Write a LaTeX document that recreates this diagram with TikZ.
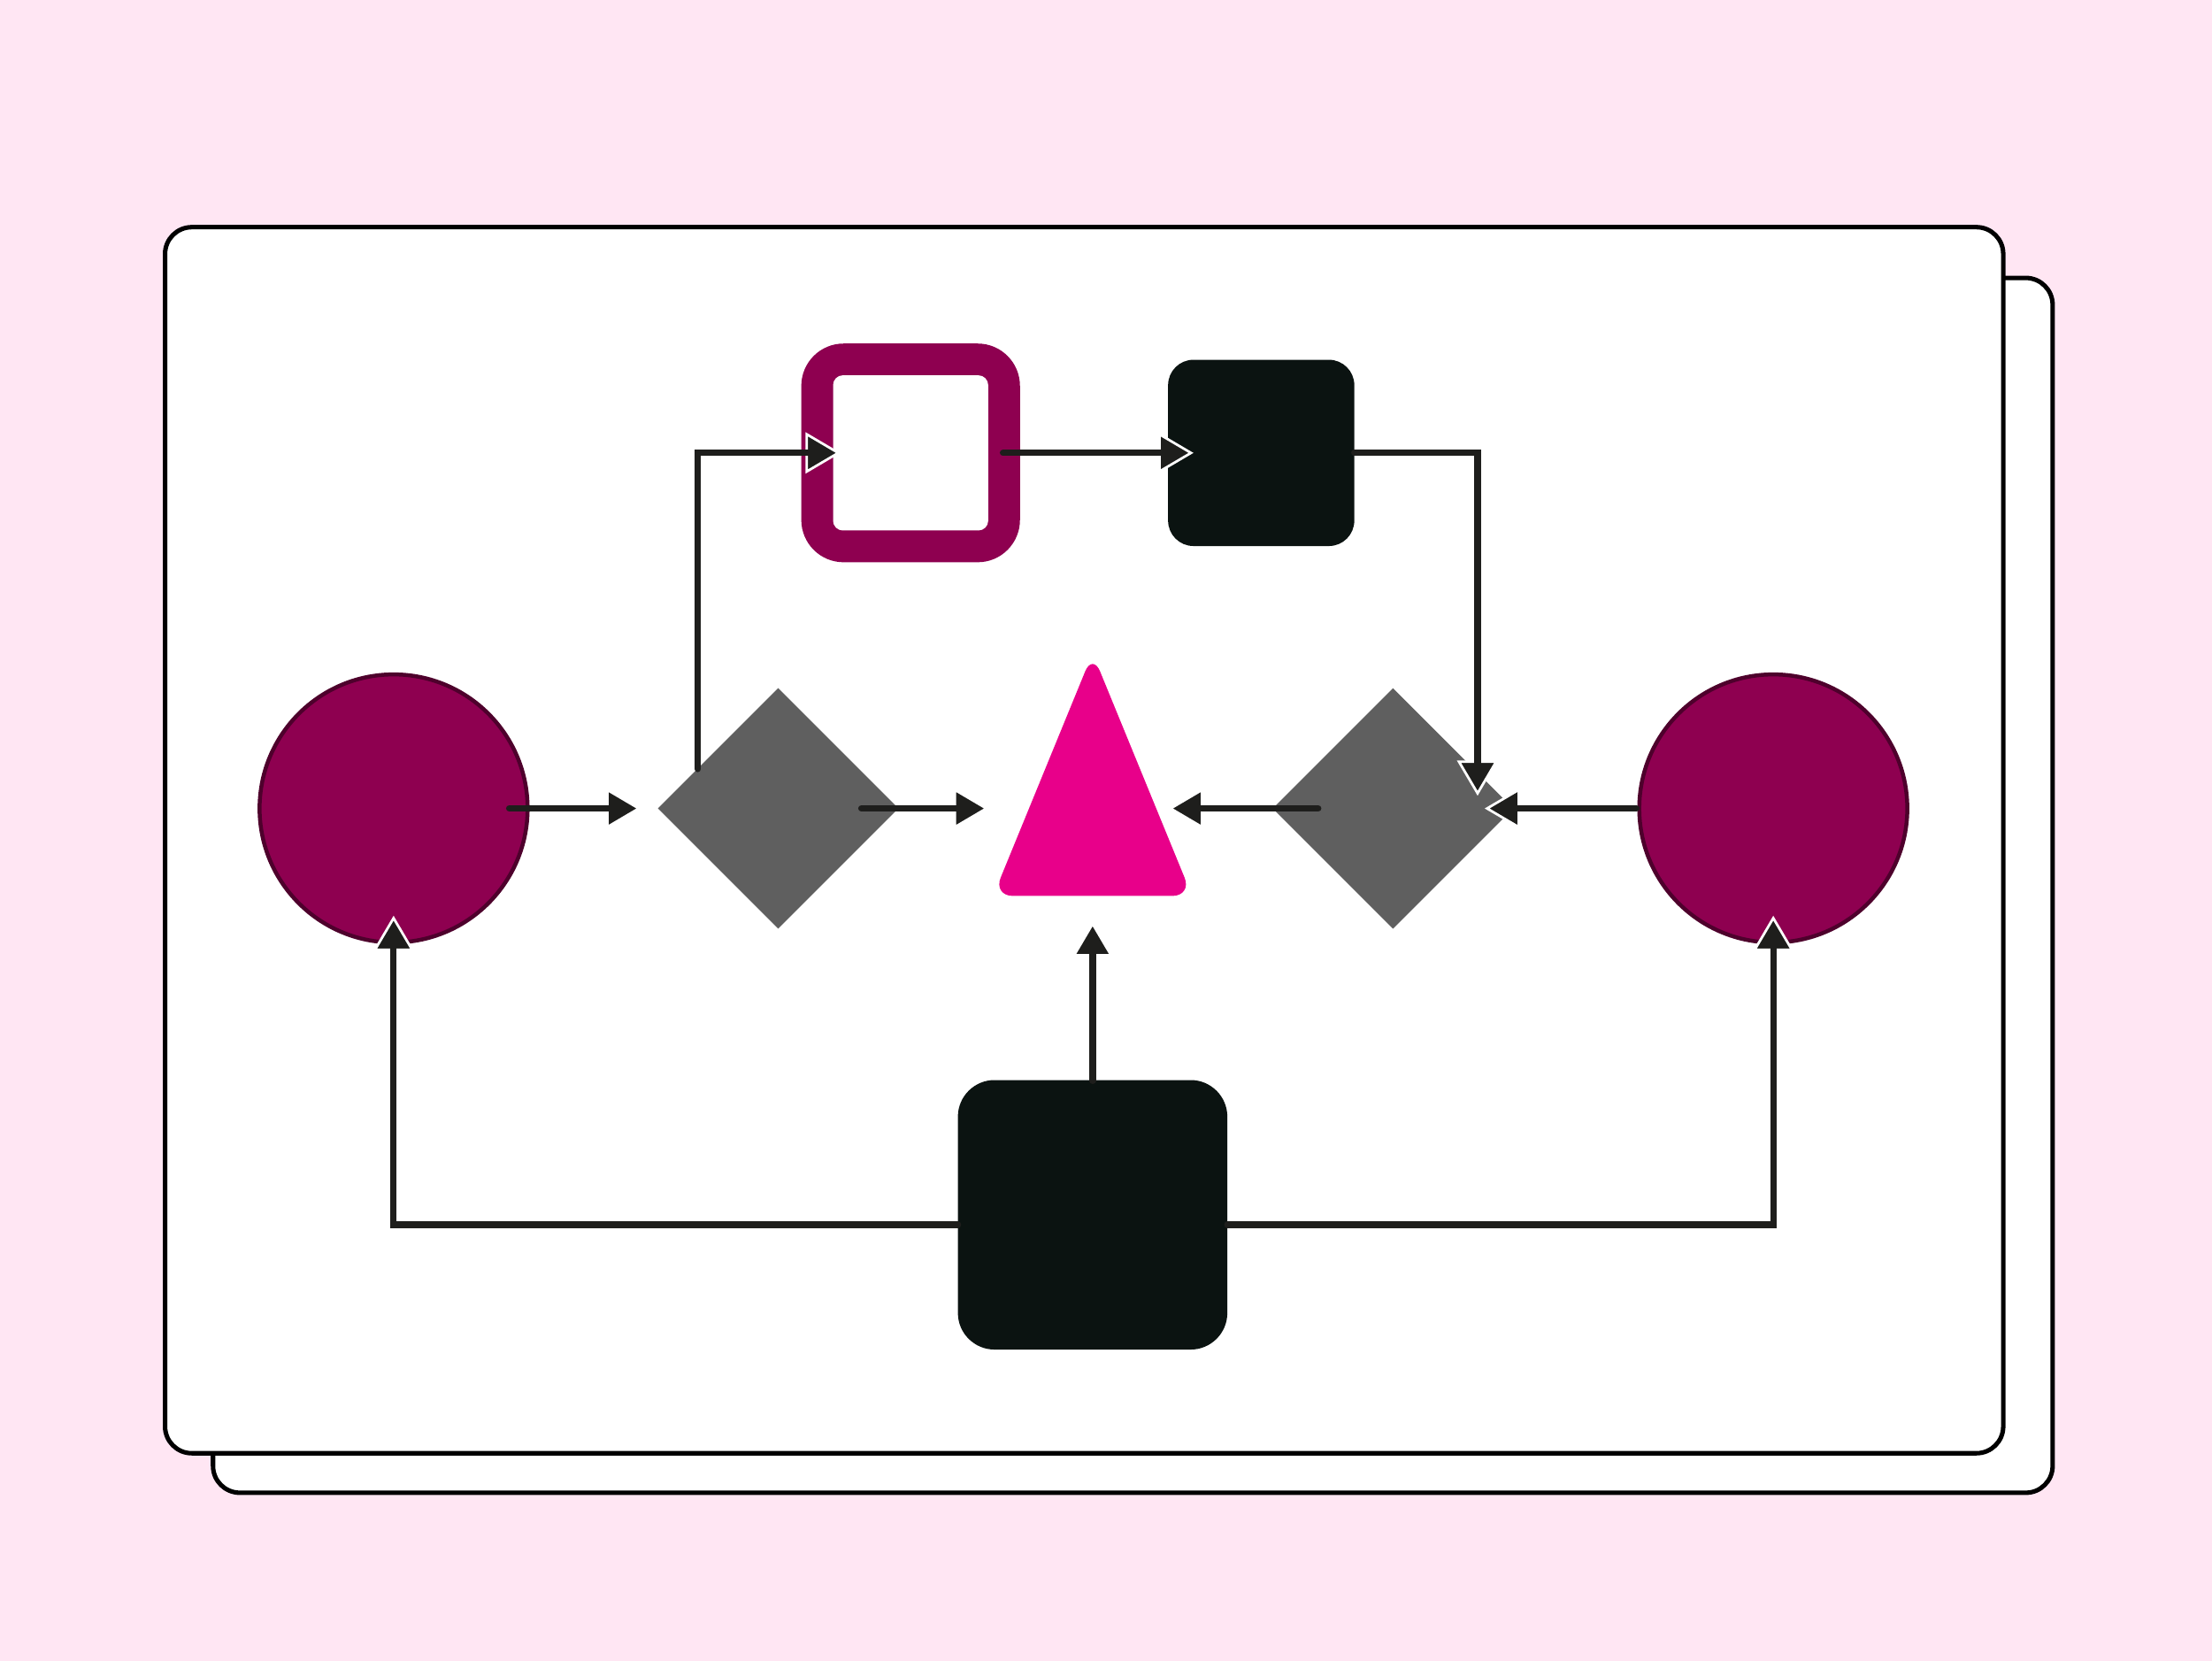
\documentclass[tikz,border=0pt]{standalone}
\usepackage{xcolor}
\definecolor{blush}{HTML}{FFE6F3}
\definecolor{plum}{HTML}{8E0050}
\definecolor{rose}{HTML}{E8008A}
\definecolor{slate}{HTML}{5F5F5F}
\definecolor{ink}{HTML}{0B1311}
\definecolor{wire}{HTML}{1E1E1C}
\usepackage{tikz}
\usetikzlibrary{arrows.meta,positioning,calc,shapes.geometric}

\begin{document}
\begin{tikzpicture}[
    card_box/.style={draw=black, fill=white, rounded corners=0.19cm, line width=0.9pt},
    end_node/.style={circle, draw=plum!55!black, fill=plum, line width=0.8pt, minimum size=1.9cm, inner sep=0pt},
    gate_node/.style={diamond, fill=slate, minimum width=1.71cm, minimum height=1.71cm, inner sep=0pt},
    slot_node/.style={rectangle, inner sep=0pt, outer sep=0pt, minimum size=1.32cm},
    task_fill/.style={fill=ink, rounded corners=0.18cm},
    flow_arrow/.style={-{Triangle[length=0.25cm, width=0.29cm, fill=wire, color=white, line width=0.5pt]}, line width=1.3pt, wire, line cap=round,
      postaction={draw, -, line cap=butt, shorten >=0.12cm}}
]

  % Canvas and cards
  \useasboundingbox (0,0) rectangle (15.68,11.77);
  \fill[blush] (0,0) rectangle (15.68,11.77);
  \draw[card_box] (1.51,1.19) rectangle (14.55,9.80);
  \draw[card_box] (1.17,1.47) rectangle (14.20,10.16);

  % Middle row
  \node[end_node] (lcirc) at (2.79,6.04) {};
  \node[gate_node, right=0.9cm of lcirc] (ldia) {};
  \node[end_node] (rcirc) at (12.57,6.04) {};
  \node[gate_node, left=0.87cm of rcirc] (rdia) {};
  \fill[rose, rounded corners=0.14cm] (7.745,7.14) -- (8.45,5.42) -- (7.04,5.42) -- cycle;
  \coordinate (tri) at (7.745,6.04);

  % Top row and bottom box
  \node[slot_node, minimum size=1.55cm] (ring) at (6.455,8.56) {};
  \node[slot_node, right=1.05cm of ring] (topsq) {};
  \node[slot_node, minimum size=1.91cm] (botsq) at (7.745,3.16) {};
  \fill[plum, rounded corners=0.3cm] (ring.south west) rectangle (ring.north east);
  \fill[white, rounded corners=0.07cm] ($(ring.south west)+(0.225,0.225)$) rectangle ($(ring.north east)-(0.225,0.225)$);
  \fill[task_fill] (topsq.south west) rectangle (topsq.north east);
  \fill[task_fill, rounded corners=0.26cm] (botsq.south west) rectangle (botsq.north east);

  % Connecting flows
  \draw[flow_arrow] ($(lcirc.center)+(0.82,0)$) -- ($(ldia.center)+(-0.97,0)$);
  \draw[flow_arrow] ($(ldia.center)+(0.59,0)$) -- ($(tri)+(-0.735,0)$);
  \draw[flow_arrow] ($(rdia.center)+(-0.53,0)$) -- ($(tri)+(0.535,0)$);
  \draw[flow_arrow] ($(rcirc.center)+(-0.97,0)$) -- ($(rdia.center)+(0.65,0)$);
  \draw[flow_arrow] ($(ldia.center)+(-0.57,0.28)$) |- ($(ring.center)+(-0.495,0)$);
  \draw[flow_arrow] ($(ring.center)+(0.655,0)$) -- ($(topsq.center)+(-0.48,0)$);
  \draw[flow_arrow] ($(topsq.center)+(0.66,0)$) -| ($(rdia.center)+(0.6,0.09)$);
  \draw[flow_arrow] ($(botsq.center)+(0,0.95)$) -- ($(tri)+(0,-0.80)$);
  \draw[flow_arrow] ($(botsq.center)+(-0.955,-0.07)$) -| ($(lcirc.center)+(0,-0.76)$);
  \draw[flow_arrow] ($(botsq.center)+(0.955,-0.07)$) -| ($(rcirc.center)+(0,-0.76)$);

\end{tikzpicture}
\end{document}
